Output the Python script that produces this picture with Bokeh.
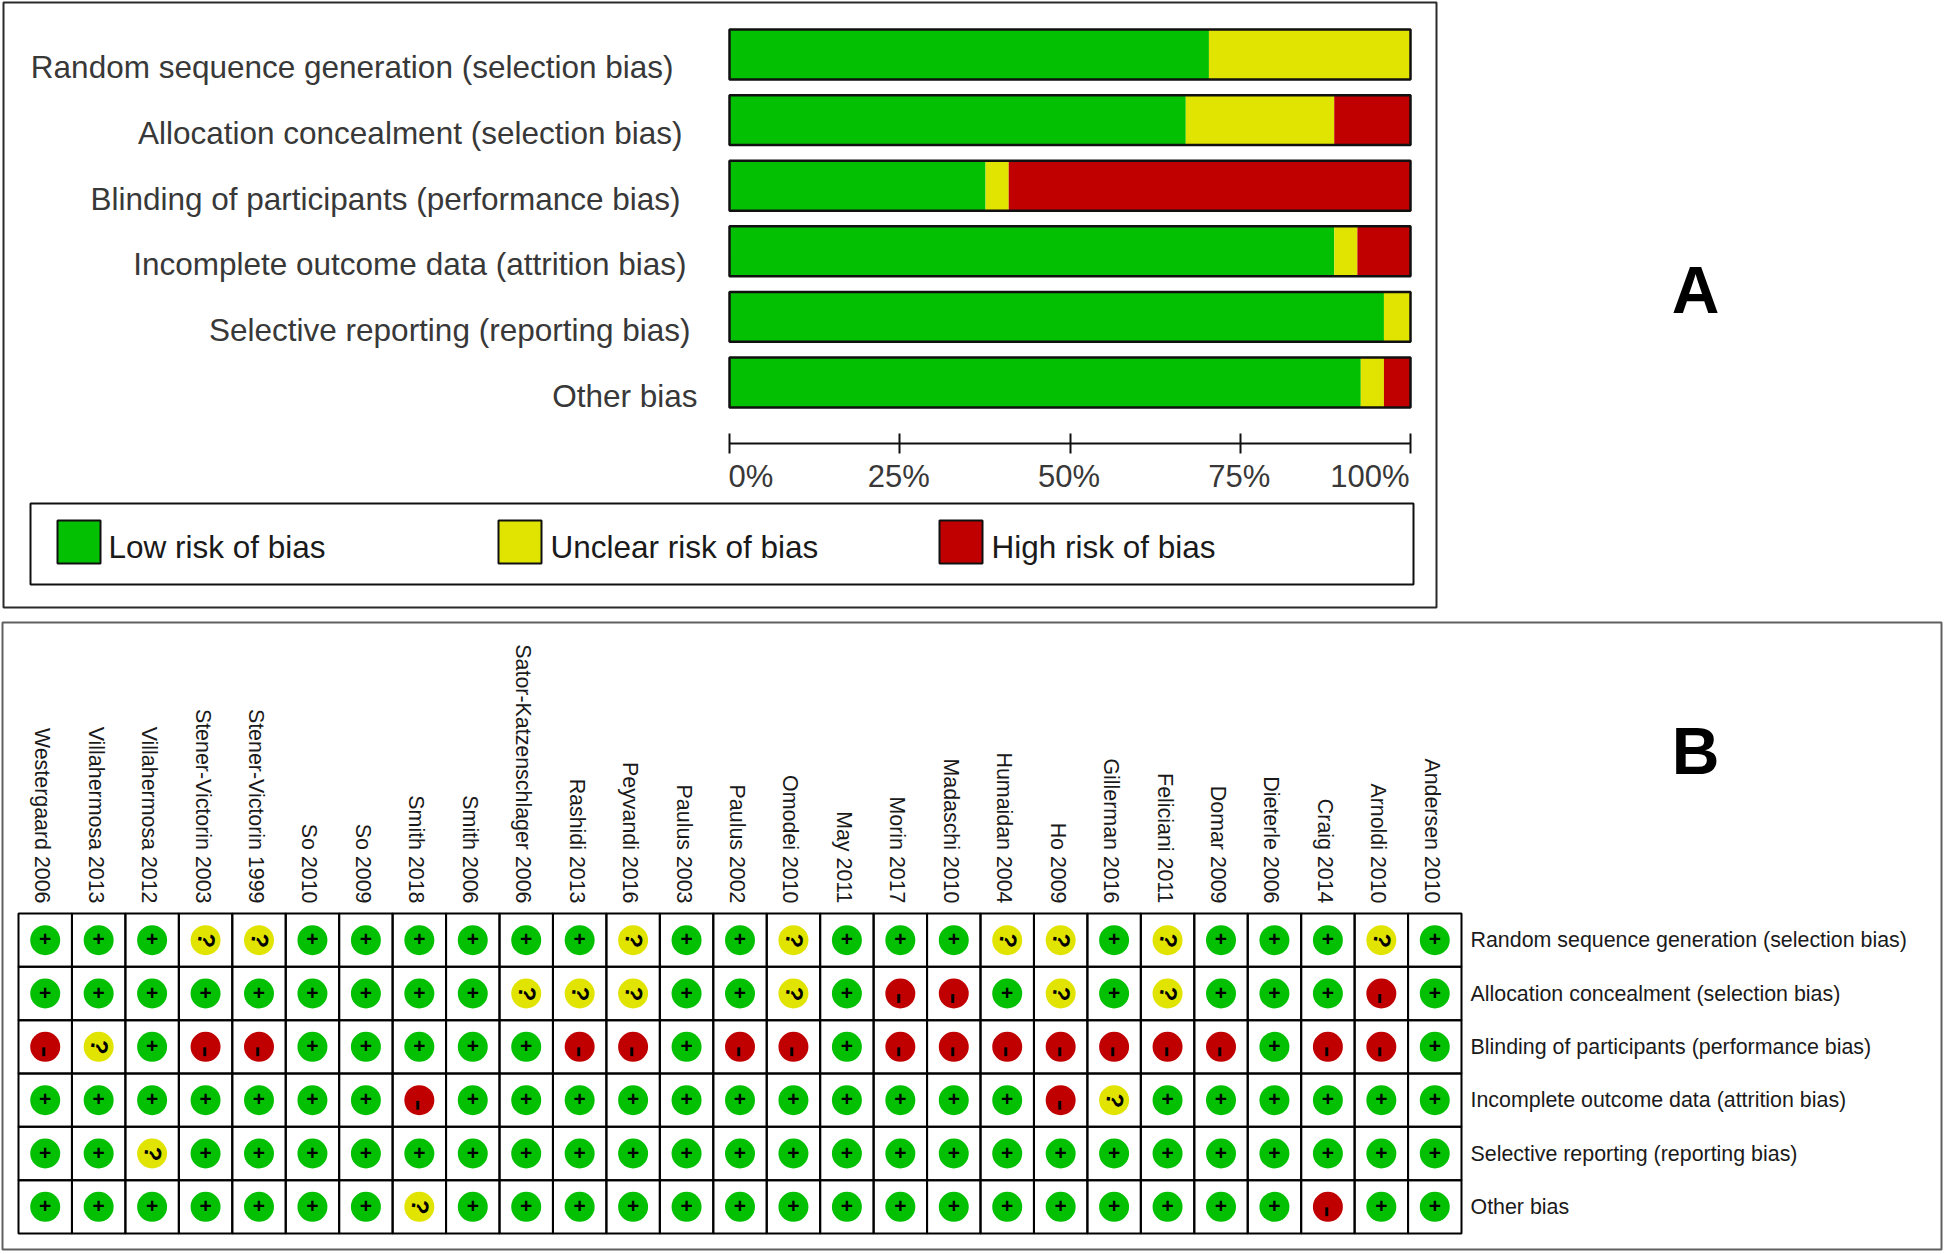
from bokeh.plotting import figure
from bokeh.models import Range1d, LinearAxis, FixedTicker
from bokeh.core.properties import value
from bokeh.embed import file_html
from bokeh.resources import INLINE
import math

domains = ["Random sequence generation (selection bias)", "Allocation concealment (selection bias)",
           "Blinding of participants (performance bias)", "Incomplete outcome data (attrition bias)",
           "Selective reporting (reporting bias)", "Other bias"]
low = [70.4, 67.0, 37.6, 88.8, 96.1, 92.7]
unclear = [29.6, 21.8, 3.4, 3.4, 3.9, 3.4]
high = [0.0, 11.2, 59.0, 7.8, 0.0, 3.9]
pct_ticks = [0, 25, 50, 75, 100]
pct_labels = ["0%", "25%", "50%", "75%", "100%"]
legend_labels = ["Low risk of bias", "Unclear risk of bias", "High risk of bias"]
studies = ["Westergaard 2006", "Villahermosa 2013", "Villahermosa 2012", "Stener-Victorin 2003", "Stener-Victorin 1999",
           "So 2010", "So 2009", "Smith 2018", "Smith 2006", "Sator-Katzenschlager 2006", "Rashidi 2013", "Peyvandi 2016",
           "Paulus 2003", "Paulus 2002", "Omodei 2010", "May 2011", "Morin 2017", "Madaschi 2010", "Humaidan 2004", "Ho 2009",
           "Gillerman 2016", "Feliciani 2011", "Domar 2009", "Dieterle 2006", "Craig 2014", "Arnoldi 2010", "Andersen 2010"]
ratings = [
    ["+","+","+","?","?","+","+","+","+","+","+","?","+","+","?","+","+","+","?","?","+","?","+","+","+","?","+"],
    ["+","+","+","+","+","+","+","+","+","?","?","?","+","+","?","+","-","-","+","?","+","?","+","+","+","-","+"],
    ["-","?","+","-","-","+","+","+","+","+","-","-","+","-","-","+","-","-","-","-","-","-","-","+","-","-","+"],
    ["+","+","+","+","+","+","+","-","+","+","+","+","+","+","+","+","+","+","+","-","?","+","+","+","+","+","+"],
    ["+","+","?","+","+","+","+","+","+","+","+","+","+","+","+","+","+","+","+","+","+","+","+","+","+","+","+"],
    ["+","+","+","+","+","+","+","?","+","+","+","+","+","+","+","+","+","+","+","+","+","+","+","+","-","+","+"],
]

GREEN, YELLOW, RED = "#03c003", "#e1e400", "#c00000"
COL = {"+": GREEN, "?": YELLOW, "-": RED}
FONT = value("Liberation Sans")
TXT = "#383838"
W, H = 1946, 1254

def span_range(p0, v0, p1, v1, a, b):
    """range whose values v0, v1 land on canvas positions p0, p1 of a canvas running a..b"""
    k = (v1 - v0) / (p1 - p0)
    return Range1d(start=v0 + (a - p0) * k, end=v0 + (b - p0) * k)

p = figure(width=W, height=H, output_backend="svg", toolbar_location=None,
           x_range=Range1d(0, W), y_range=Range1d(H, 0), min_border=0,
           x_axis_type=None, y_axis_type=None, outline_line_color=None)
p.grid.visible = False
p.extra_x_ranges = {"pct": span_range(729, 0, 1410, 100, 0, W), "col": span_range(18, 0, 1461, 27, 0, W)}
p.extra_y_ranges = {"bar": span_range(54, 0, 382, 5, H, 0), "row": span_range(913, 0, 1233, 6, H, 0)}

# panel frames
p.quad(left=[3], right=[1436], top=[2], bottom=[607], fill_color=None, line_color="#2a2a2a", line_width=2)
p.quad(left=[2], right=[1941], top=[622], bottom=[1249], fill_color=None, line_color="#606060", line_width=2)
p.text(x=[1695, 1695], y=[289, 750], text=["A", "B"], text_font=FONT, text_font_size="66px",
       text_font_style="bold", text_align="center", text_baseline="middle", text_color="#000000")

# panel A bars
ys = list(range(6))
lefts = [0.0] * 6
for vals, c in ((low, GREEN), (unclear, YELLOW), (high, RED)):
    rights = [a + b for a, b in zip(lefts, vals)]
    p.hbar(y=ys, left=lefts, right=rights, height=0.76, fill_color=c, line_color=None,
           x_range_name="pct", y_range_name="bar")
    lefts = rights
p.hbar(y=ys, left=[0] * 6, right=[100] * 6, height=0.76, fill_color=None, line_color="#101010", line_width=2.5,
       x_range_name="pct", y_range_name="bar")

label_right = [673, 682, 680, 686, 690, 697]
label_y = [66, 132, 198, 263, 329, 395]
p.text(x=label_right, y=label_y, text=domains, text_font=FONT, text_font_size="31.5px", text_align="right",
       text_baseline="middle", text_color=TXT)

axis = LinearAxis(x_range_name="pct", fixed_location=443, ticker=FixedTicker(ticks=pct_ticks), bounds=(0, 100),
                  major_tick_in=10, major_tick_out=10, minor_tick_line_color=None,
                  major_label_overrides={t: "" for t in pct_ticks},
                  axis_line_color="#101010", axis_line_width=2, major_tick_line_color="#101010", major_tick_line_width=2)
p.add_layout(axis, "below")
p.text(x=pct_ticks, y=[476] * 5, text=pct_labels, x_range_name="pct", x_offset=-1, text_font=FONT, text_font_size="31px",
       text_align=["left", "center", "center", "center", "right"], text_baseline="middle", text_color=TXT)

# legend
p.quad(left=[30], right=[1413], top=[503], bottom=[584], fill_color=None, line_color="#101010", line_width=2)
p.quad(left=[57, 498, 939], right=[100, 541, 982], top=[520] * 3, bottom=[563] * 3,
       fill_color=[GREEN, YELLOW, RED], line_color="#101010", line_width=2)
p.text(x=[108, 550, 991], y=[546] * 3, text=legend_labels, text_font=FONT, text_font_size="31.5px",
       text_baseline="middle", text_color="#1a1a1a")

# panel B grid
xs, yr, marks, cols = [], [], [], []
for r, row in enumerate(ratings):
    for c, m in enumerate(row):
        xs.append(c + 0.5); yr.append(r + 0.5); marks.append(m); cols.append(COL[m])
n_c, n_r = len(studies), len(domains)
p.quad(left=[c for c in range(n_c) for r in range(n_r)], right=[c + 1 for c in range(n_c) for r in range(n_r)],
       top=[r for c in range(n_c) for r in range(n_r)], bottom=[r + 1 for c in range(n_c) for r in range(n_r)],
       fill_color=None, line_color="#000000", line_width=2, x_range_name="col", y_range_name="row")
p.scatter(x=xs, y=yr, size=30, marker="circle", fill_color=cols, line_color=None, x_range_name="col", y_range_name="row")

def marks_text(ch, angle, size, bold, dx, dy):
    idx = [i for i, m in enumerate(marks) if m == ch]
    p.text(x=[xs[i] for i in idx], y=[yr[i] for i in idx], text=[ch] * len(idx), angle=angle, x_offset=dx, y_offset=dy,
           text_font=FONT, text_font_size=size, text_font_style=bold, text_align="center", text_baseline="middle",
           text_color="#000000", x_range_name="col", y_range_name="row")
marks_text("+", 0, "21px", "bold", 0, -1)
marks_text("?", -math.pi / 2 - 0.15, "24px", "bold", 1, 0)
marks_text("-", -math.pi / 2, "36px", "normal", 2, 5)

# study names and domain names
p.text(x=[i + 0.5 for i in range(n_c)], y=[903] * n_c, text=studies, angle=-math.pi / 2, x_offset=-3,
       x_range_name="col", text_font=FONT, text_font_size="21.4px", text_align="right", text_baseline="middle",
       text_color="#1a1a1a")
p.text(x=[1470] * 6, y=[r + 0.5 for r in range(6)], text=domains, y_range_name="row", text_font=FONT,
       text_font_size="21.4px", text_baseline="middle", text_color="#1a1a1a")

open("out.html", "w").write(file_html(p, INLINE))
